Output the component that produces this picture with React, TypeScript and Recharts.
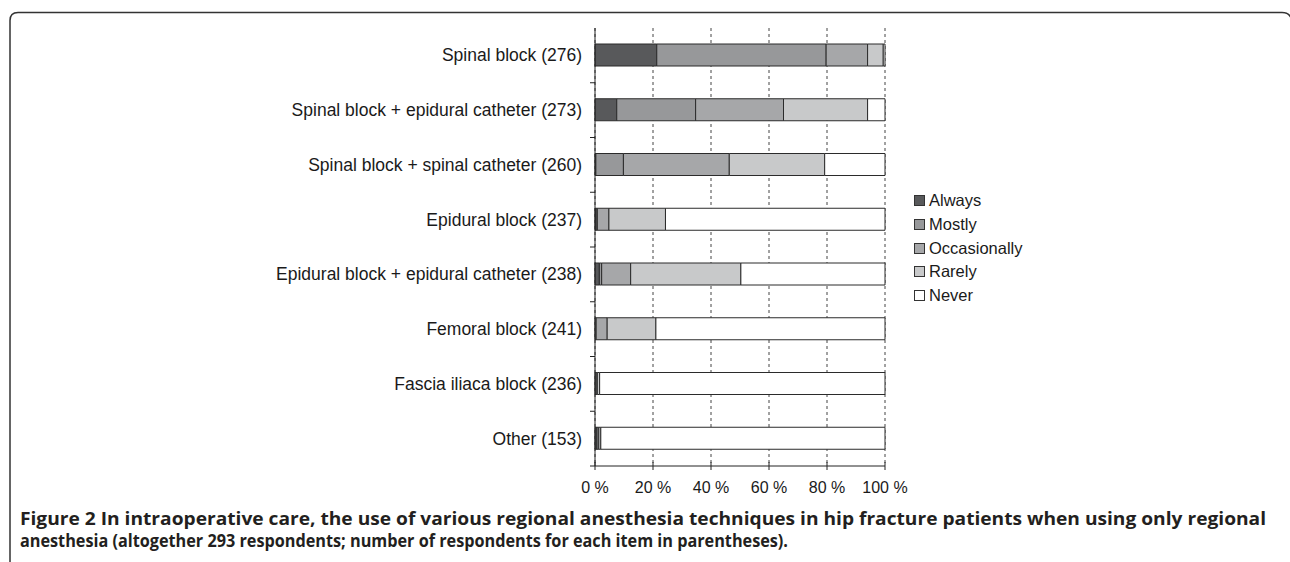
import React from "react";
import { BarChart, Bar, XAxis, YAxis, CartesianGrid, Legend } from "recharts";

const categories = [
  "Spinal block (276)",
  "Spinal block + epidural catheter (273)",
  "Spinal block + spinal catheter (260)",
  "Epidural block (237)",
  "Epidural block + epidural catheter (238)",
  "Femoral block (241)",
  "Fascia iliaca block (236)",
  "Other (153)",
];

const always = [21.3, 7.5, 0.3, 0.4, 1.5, 0, 0, 0.7];
const mostly = [58.4, 27.2, 9.5, 0.4, 0.8, 0.4, 0.4, 0.6];
const occasionally = [14.3, 30.3, 36.5, 4.0, 10.0, 3.8, 0.4, 0];
const rarely = [5.4, 29.0, 32.9, 19.5, 38.0, 16.8, 0.8, 0.7];
const never = [0.6, 6.0, 20.8, 75.7, 49.7, 79.0, 98.4, 98.0];

const xTicks = [0, 20, 40, 60, 80, 100];

const seriesNames = ["Always", "Mostly", "Occasionally", "Rarely", "Never"];
const seriesKeys = ["always", "mostly", "occasionally", "rarely", "never"];
const seriesColors = ["#58595b", "#97989a", "#a6a7a9", "#c8c9ca", "#ffffff"];

const data = categories.map((name, i) => ({
  name,
  always: always[i],
  mostly: mostly[i],
  occasionally: occasionally[i],
  rarely: rarely[i],
  never: never[i],
}));

const FONT = "'Liberation Sans', Arial, sans-serif";
const BAND = 438 / categories.length;

const YTick = (props: any) => {
  const { x, y, payload } = props;
  return (
    <g>
      <line x1={x - 5} x2={x} y1={y + BAND / 2} y2={y + BAND / 2} stroke="#222" strokeWidth={1} />
      <text x={x - 13} y={y + 6} textAnchor="end" fontFamily={FONT} fontSize={17.5} fill="#1a1a1a">
        {payload.value}
      </text>
    </g>
  );
};

const XTick = (props: any) => {
  const { x, y, payload } = props;
  return (
    <g>
      <line x1={x} x2={x} y1={y - 4} y2={y + 4} stroke="#222" strokeWidth={1} />
      <text x={x} y={y + 27} textAnchor="middle" fontFamily={FONT} fontSize={16} fill="#1a1a1a">
        {`${payload.value} %`}
      </text>
    </g>
  );
};

const LegendContent = (props: any) => {
  const payload = [...(props.payload || [])].sort(
    (a: any, b: any) => seriesNames.indexOf(a.value) - seriesNames.indexOf(b.value)
  );
  return (
    <div style={{ fontFamily: FONT, fontSize: 16.5, color: "#1a1a1a" }}>
      {payload.map((p: any, i: number) => (
        <div key={i} style={{ display: "flex", alignItems: "center", height: 23.7 }}>
          <span
            style={{
              display: "inline-block",
              width: 9,
              height: 9,
              background: p.color,
              border: "1px solid #333",
              marginRight: 4,
            }}
          />
          <span>{p.value}</span>
        </div>
      ))}
    </div>
  );
};

export default function App() {
  return (
    <div style={{ position: "absolute", left: 0, top: 0, width: 1290, height: 562, background: "#fff", overflow: "hidden" }}>
      <svg width={1290} height={562} style={{ position: "absolute", left: 0, top: 0 }}>
        <path d="M 10 570 L 10 20.5 Q 10 12.5 18 12.5 L 1282 12.5 Q 1289 12.5 1291 18" fill="none" stroke="#333" strokeWidth={1.5} />
        <text x={20} y={525} fontFamily="'Open Sans', sans-serif" fontWeight={700} fontSize={17.5} fill="#231f20" textLength={1246} lengthAdjust="spacingAndGlyphs">
          Figure 2 In intraoperative care, the use of various regional anesthesia techniques in hip fracture patients when using only regional
        </text>
        <text x={20} y={547} fontFamily="'Open Sans', sans-serif" fontWeight={700} fontSize={17.5} fill="#231f20" textLength={768} lengthAdjust="spacingAndGlyphs">
          anesthesia (altogether 293 respondents; number of respondents for each item in parentheses).
        </text>
      </svg>
      <div style={{ position: "absolute", left: 0, top: 0 }}>
        <BarChart
          width={1290}
          height={500}
          data={data}
          layout="vertical"
          margin={{ top: 28, right: 405, bottom: 4, left: 0 }}
          barSize={22}
        >
          <CartesianGrid horizontal={false} vertical={true} stroke="#444" strokeDasharray="3 3" />
          <XAxis
            type="number"
            domain={[0, 100]}
            ticks={xTicks}
            height={30}
            tickSize={0}
            tickMargin={0}
            tick={<XTick />}
            axisLine={{ stroke: "#222", strokeWidth: 1 }}
            tickLine={false}
            interval={0}
          />
          <YAxis
            type="category"
            dataKey="name"
            width={595}
            tickSize={0}
            tickMargin={0}
            tick={<YTick />}
            axisLine={{ stroke: "#222", strokeWidth: 1 }}
            tickLine={false}
            interval={0}
          />
          <Legend
            layout="vertical"
            align="center"
            verticalAlign="middle"
            content={<LegendContent />}
            wrapperStyle={{ position: "absolute", left: 914, top: 189, width: 160 }}
          />
          {seriesKeys.map((k, i) => (
            <Bar
              key={k}
              dataKey={k}
              name={seriesNames[i]}
              stackId="a"
              fill={seriesColors[i]}
              stroke="#2b2b2b"
              strokeWidth={1}
              isAnimationActive={false}
            />
          ))}
        </BarChart>
      </div>
    </div>
  );
}
